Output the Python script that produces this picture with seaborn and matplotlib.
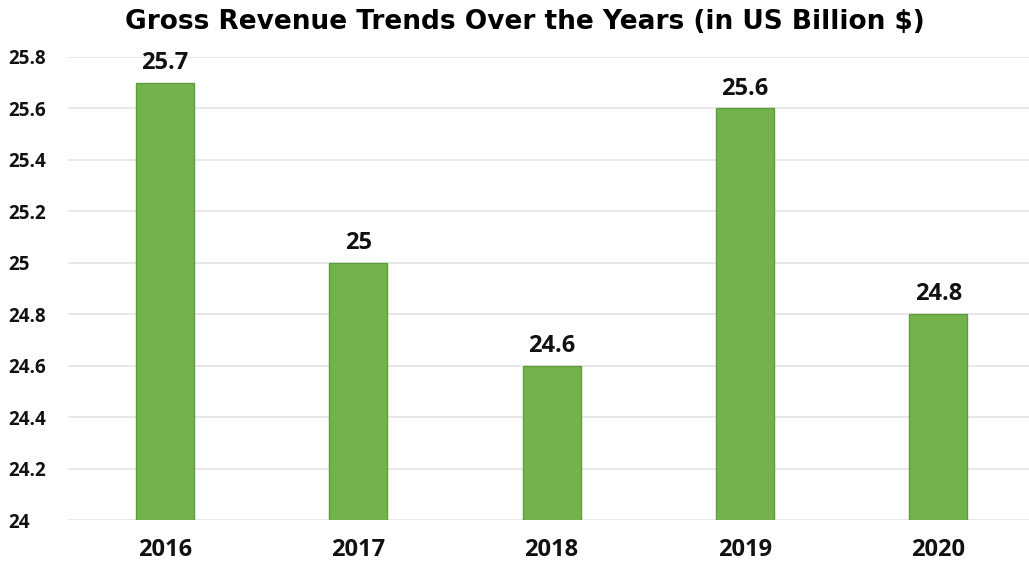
"""Gross revenue bar chart, 2016-2020."""

import matplotlib

matplotlib.use("Agg")
import matplotlib.pyplot as plt
import pandas as pd
import seaborn as sns

years = ["2016", "2017", "2018", "2019", "2020"]
revenue = [25.7, 25.0, 24.6, 25.6, 24.8]
value_labels = ["25.7", "25", "24.6", "25.6", "24.8"]
y_ticks = [24.0, 24.2, 24.4, 24.6, 24.8, 25.0, 25.2, 25.4, 25.6, 25.8]
y_tick_labels = ["24", "24.2", "24.4", "24.6", "24.8", "25", "25.2", "25.4", "25.6", "25.8"]

df = pd.DataFrame({"year": years, "revenue": revenue})

sns.set_theme(style="white")
plt.rcParams["font.family"] = ["DejaVu Sans"]
plt.rcParams["text.color"] = "#111111"
plt.rcParams["xtick.color"] = "#111111"
plt.rcParams["ytick.color"] = "#111111"

label_font = ["Open Sans", "DejaVu Sans"]

fig = plt.figure(figsize=(10.29, 5.69), dpi=100)
ax = fig.add_axes([0.066, 0.086, 0.94, 0.814])

sns.barplot(data=df, x="year", y="revenue", color="#74b34b", width=0.3,
            edgecolor="#5f9c3c", linewidth=1, saturation=1, ax=ax, zorder=3)

ax.set_ylim(24, 25.8)
ax.set_yticks(y_ticks)
ax.set_yticklabels(y_tick_labels, fontsize=13.5, fontweight="bold",
                   fontfamily=label_font)
ax.yaxis.grid(True, color="#e4e4e4", linewidth=1.2)
ax.set_axisbelow(True)
ax.tick_params(axis="both", length=0)
ax.tick_params(axis="x", pad=13)
ax.tick_params(axis="y", pad=43)
for lbl in ax.get_yticklabels():
    lbl.set_horizontalalignment("left")
ax.set_xticks(range(len(years)))
ax.set_xticklabels(years, fontsize=17, fontweight="bold", fontfamily=label_font)
ax.set_xlabel("")
ax.set_ylabel("")
sns.despine(ax=ax, left=True, bottom=True)

for i, (v, t) in enumerate(zip(revenue, value_labels)):
    ax.text(i, v + 0.03, t, ha="center", va="bottom", fontsize=17,
            fontweight="bold", fontfamily=label_font, zorder=4)

fig.suptitle("Gross Revenue Trends Over the Years (in US Billion $)",
             x=0.51, y=0.985, fontsize=19, fontweight="bold", color="black")

fig.savefig("out.png", dpi=100)
